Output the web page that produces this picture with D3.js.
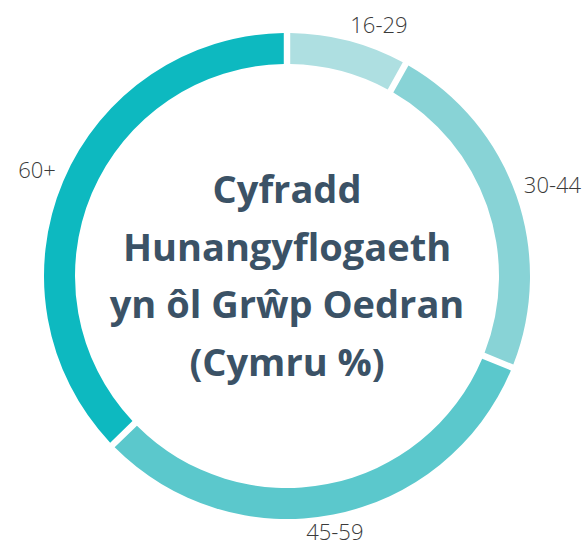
<!DOCTYPE html>
<html>
<head>
<meta charset="utf-8">
<script src="https://cdn.jsdelivr.net/npm/d3@7"></script>
<style>
  body { margin: 0; background: #fff; }
  svg { display: block; }
</style>
</head>
<body>
<div id="chart"></div>
<script>
// age groups and self-employment share
var groups = ["16-29", "30-44", "45-59", "60+"];
var values = [7.9, 23.0, 31.7, 37.4];
var colours = ["#aedfe1", "#88d3d6", "#5bc8cc", "#0db9c0"];
var titleLines = ["Cyfradd", "Hunangyflogaeth", "yn ôl Grŵp Oedran", "(Cymru %)"];

var width = 584, height = 546;
var cx = 287, cy = 276;
var outerR = 243, innerR = 212, labelR = 251;

var svg = d3.select("#chart")
  .append("svg")
    .attr("width", width)
    .attr("height", height);

var g = svg.append("g")
  .attr("transform", "translate(" + cx + "," + cy + ")");

var pie = d3.pie()
  .sort(null)
  .padAngle(0.02)
  .value(function(d, i) { return values[i]; });

var arcs = pie(groups);

var arc = d3.arc()
  .innerRadius(innerR)
  .outerRadius(outerR);

g.selectAll("path.slice")
  .data(arcs)
  .enter()
  .append("path")
    .attr("class", "slice")
    .attr("d", arc)
    .attr("fill", function(d, i) { return colours[i]; });

function mid(d) { return (d.startAngle + d.endAngle) / 2; }

// labels around the ring, nearest corner of the text sits on labelR
g.selectAll("text.lab")
  .data(arcs)
  .enter()
  .append("text")
    .attr("class", "lab")
    .attr("x", function(d) { return labelR * Math.sin(mid(d)); })
    .attr("y", function(d) { return -labelR * Math.cos(mid(d)); })
    .attr("dy", function(d) { return Math.cos(mid(d)) > 0 ? "0em" : "0.78em"; })
    .attr("text-anchor", function(d) {
      var a = mid(d);
      if (Math.cos(a) < -0.9) return "middle";
      return Math.sin(a) > 0 ? "start" : "end";
    })
    .attr("font-family", "'Open Sans', sans-serif")
    .attr("font-weight", 300)
    .attr("font-size", "22px")
    .attr("fill", "#3a3a3a")
    .text(function(d) { return d.data; });

// title in the hole
var lineGap = 57.5;
g.append("text")
    .attr("text-anchor", "middle")
    .attr("font-family", "'Open Sans', sans-serif")
    .attr("font-weight", 700)
    .attr("font-size", "38px")
    .attr("fill", "#3b5266")
  .selectAll("tspan")
  .data(titleLines)
  .enter()
  .append("tspan")
    .attr("x", 0)
    .attr("y", function(d, i) { return (i - (titleLines.length - 1) / 2) * lineGap; })
    .attr("dy", "0.35em")
    .text(function(d) { return d; });
</script>
</body>
</html>
